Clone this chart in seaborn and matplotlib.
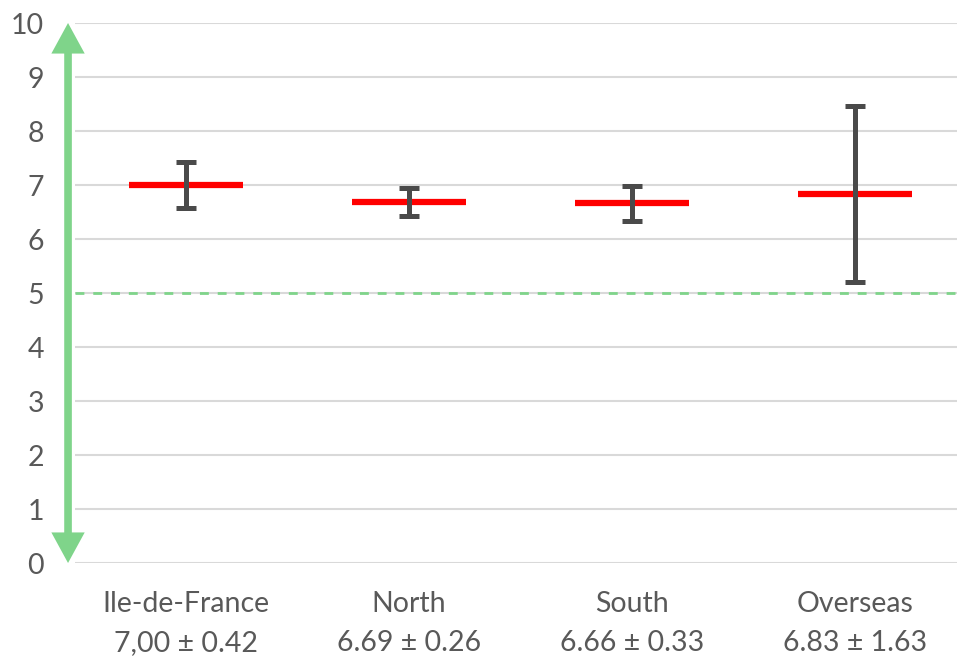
import numpy as np
import pandas as pd
import seaborn as sns
import matplotlib.pyplot as plt

regions = ['Ile-de-France', 'North', 'South', 'Overseas']
means = [7.00, 6.69, 6.66, 6.83]
errs = [0.42, 0.26, 0.33, 1.63]
mean_labels = ['7,00 ± 0.42', '6.69 ± 0.26', '6.66 ± 0.33', '6.83 ± 1.63']
threshold = 5

df = pd.DataFrame({'Region': regions, 'Mean': means, 'Err': errs})

sns.set_theme(style='white')
plt.rcParams['font.family'] = ['Lato', 'DejaVu Sans']

fig = plt.figure(figsize=(9.57, 6.58), dpi=100)
ax = fig.add_axes([74.5 / 957, 95 / 658, 892 / 957, 540 / 658])

# red mean bars
sns.scatterplot(x='Region', y='Mean', data=df, marker='_', s=82 ** 2,
                color='#ff0000', linewidth=4.5, ax=ax, zorder=3, legend=False)
# error bars
ax.errorbar(np.arange(len(regions)), means, yerr=errs, fmt='none',
            ecolor='#4a4a4a', elinewidth=3.6, capsize=7, capthick=3.6, zorder=4)

ax.axhline(threshold, color='#7fd48a', linestyle=(0, (3.2, 3.2)), linewidth=2.0, zorder=2)

ax.set_xlim(-0.5, len(regions) - 0.5)
ax.set_ylim(0, 10)
ax.set_yticks(range(0, 11))
ax.yaxis.grid(True, color='#d9d9d9', linewidth=1.5)
ax.set_axisbelow(True)
for s in ax.spines.values():
    s.set_visible(False)

ax.set_xticks(range(len(regions)))
ax.set_xticklabels([f'{r}\n{m}' for r, m in zip(regions, mean_labels)], linespacing=1.62)
ax.tick_params(axis='x', length=0, pad=20, labelsize=20.5, labelcolor='#595959')
ax.tick_params(axis='y', length=0, pad=22, labelsize=20.5, labelcolor='#595959')
ax.set_xlabel('')
ax.set_ylabel('')

# green double arrow on the left (two filled halves meeting in the middle)
arrow_x = -0.529
for end in (10, 0):
    ax.annotate('', xy=(arrow_x, end), xytext=(arrow_x, 5), xycoords='data',
                arrowprops=dict(arrowstyle='simple,head_length=2.2,head_width=2.4,tail_width=0.55',
                                mutation_scale=10, facecolor='#7fd48a', edgecolor='none',
                                linewidth=0, shrinkA=0, shrinkB=0),
                annotation_clip=False)

plt.savefig('out.png', dpi=100)
